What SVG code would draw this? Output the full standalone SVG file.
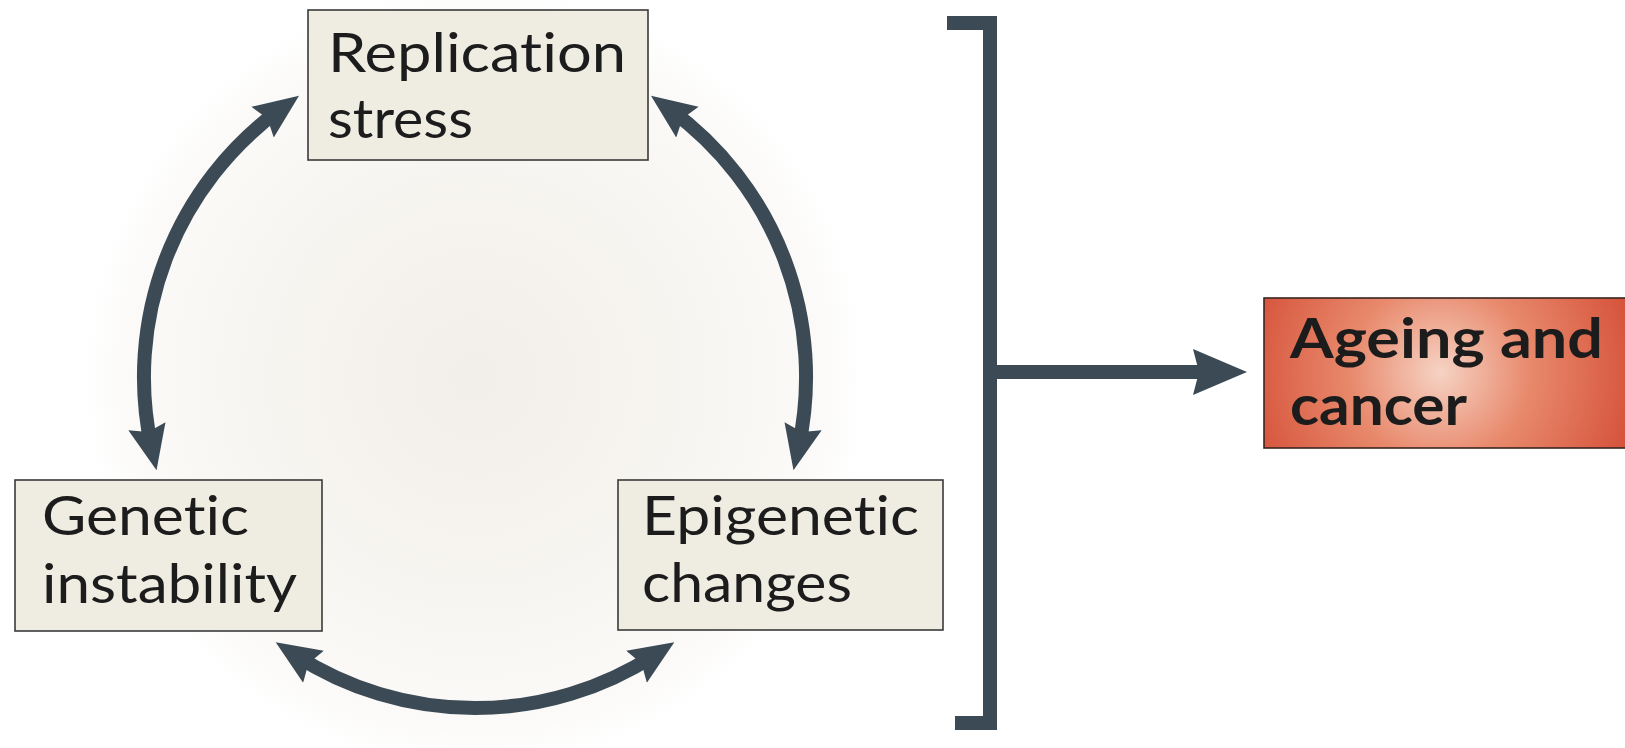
<svg xmlns="http://www.w3.org/2000/svg" width="1625" height="748" viewBox="0 0 1625 748">
<defs>
<radialGradient id="glow" gradientUnits="userSpaceOnUse" cx="475" cy="378" r="390">
<stop offset="0" stop-color="#f2eee9"/>
<stop offset="0.55" stop-color="#f7f5f1"/>
<stop offset="0.88" stop-color="#fbfaf8"/>
<stop offset="1" stop-color="#ffffff"/>
</radialGradient>
<radialGradient id="red" gradientUnits="userSpaceOnUse" cx="1440" cy="372" r="200">
<stop offset="0" stop-color="#f6d3c4"/>
<stop offset="0.45" stop-color="#e8896c"/>
<stop offset="1" stop-color="#d5523a"/>
</radialGradient>
<marker id="head" viewBox="0 -22 52 44" markerWidth="52" markerHeight="44" refX="22" refY="0" orient="auto-start-reverse" markerUnits="userSpaceOnUse">
<path d="M0,-19 L45,0 L0,19 L6,0 z" fill="#3b4a54"/>
</marker>
<marker id="bighead" viewBox="0 -25 60 50" markerWidth="60" markerHeight="50" refX="30" refY="0" orient="auto" markerUnits="userSpaceOnUse">
<path d="M0,-23 L54,0 L0,23 L6,0 z" fill="#3b4a54"/>
</marker>
<style>
.box{fill:#efece2;stroke:#3a3a3a;stroke-width:1.6}
.lbl{font-family:Lato,"Open Sans","DejaVu Sans",sans-serif;font-size:55px;fill:#1c1c1c;font-variant-ligatures:none}
.bold{font-weight:700}
.conn{fill:none;stroke:#3b4a54;stroke-width:14}
</style>
</defs>
<rect width="1625" height="748" fill="#ffffff"/>
<circle cx="475" cy="378" r="390" fill="url(#glow)"/>
<g id="connectors">
<path class="conn" d="M280.4,109.2 A331,331 0 0 0 151.6,447.7" marker-start="url(#head)" marker-end="url(#head)"/>
<path class="conn" d="M669.6,109.2 A331,331 0 0 1 798.4,447.7" marker-start="url(#head)" marker-end="url(#head)"/>
<path class="conn" d="M295.0,654.8 A331,331 0 0 0 655.0,654.8" marker-start="url(#head)" marker-end="url(#head)"/>
<path class="conn" d="M947,23 H990 V723 H955" stroke-linejoin="miter"/>
<path class="conn" d="M990,372 H1223" marker-end="url(#bighead)"/>
</g>
<g id="replication">
<rect class="box" x="308" y="10" width="340" height="150"/>
<text class="lbl" x="328" y="72" textLength="298" lengthAdjust="spacingAndGlyphs">Replication</text>
<text class="lbl" x="328" y="138" textLength="145" lengthAdjust="spacingAndGlyphs">stress</text>
</g>
<g id="genetic">
<rect class="box" x="15" y="480" width="307" height="151"/>
<text class="lbl" x="42" y="535" textLength="207" lengthAdjust="spacingAndGlyphs">Genetic</text>
<text class="lbl" x="42" y="603" textLength="255" lengthAdjust="spacingAndGlyphs">instability</text>
</g>
<g id="epigenetic">
<rect class="box" x="618" y="480" width="325" height="150"/>
<text class="lbl" x="642" y="535" textLength="277" lengthAdjust="spacingAndGlyphs">Epigenetic</text>
<text class="lbl" x="642" y="602" textLength="210" lengthAdjust="spacingAndGlyphs">changes</text>
</g>
<g id="ageing">
<rect x="1264" y="298" width="370" height="150" fill="url(#red)" stroke="#3a2520" stroke-width="1.6"/>
<text class="lbl bold" x="1290" y="358" textLength="313" lengthAdjust="spacingAndGlyphs">Ageing and</text>
<text class="lbl bold" x="1290" y="425" textLength="177" lengthAdjust="spacingAndGlyphs">cancer</text>
</g>
</svg>
